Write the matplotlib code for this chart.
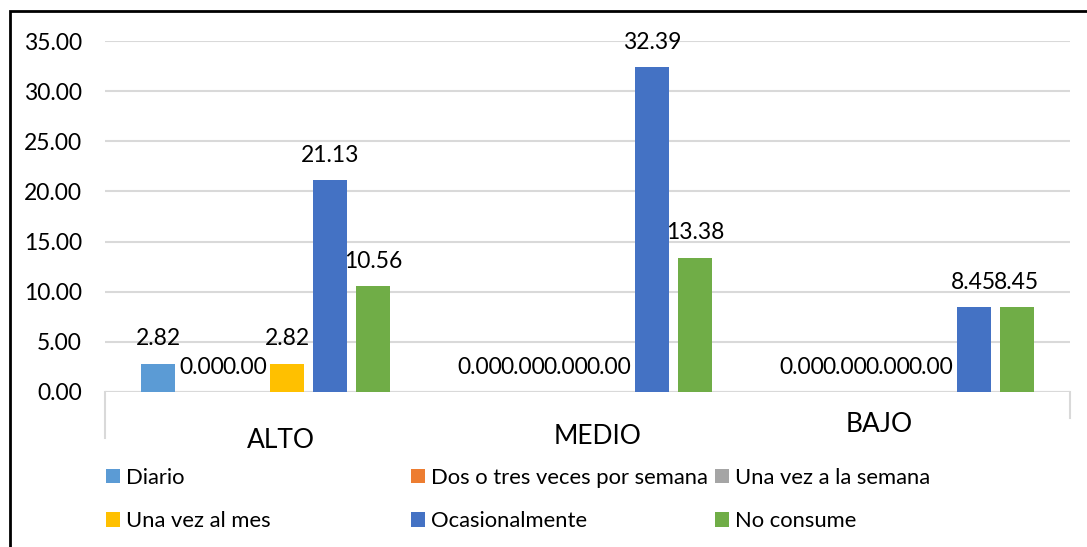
import matplotlib.pyplot as plt
import numpy as np
from matplotlib.patches import Rectangle
from matplotlib.transforms import blended_transform_factory

plt.rcParams['font.family'] = ['Lato', 'DejaVu Sans']

categorias = ['ALTO', 'MEDIO', 'BAJO']
series = ['Diario', 'Dos o tres veces por semana', 'Una vez a la semana',
          'Una vez al mes', 'Ocasionalmente', 'No consume']
valores = [
    [2.82, 0.00, 0.00],     # Diario
    [0.00, 0.00, 0.00],     # Dos o tres veces por semana
    [0.00, 0.00, 0.00],     # Una vez a la semana
    [2.82, 0.00, 0.00],     # Una vez al mes
    [21.13, 32.39, 8.45],   # Ocasionalmente
    [10.56, 13.38, 8.45],   # No consume
]
colores = ['#5B9BD5', '#ED7D31', '#A5A5A5', '#FFC000', '#4472C4', '#70AD47']
yticks = np.arange(0, 35.01, 5)

fig = plt.figure(figsize=(10.87, 5.47), dpi=100)
ax = fig.add_axes([105 / 1087, 1 - 392 / 547, 965 / 1087, 351 / 547])

x = np.arange(len(categorias))
ancho = 0.1057
paso = 0.1337
barras = []
for k, (nombre, vals, c) in enumerate(zip(series, valores, colores)):
    pos = x + (k - 2.5) * paso
    b = ax.bar(pos, vals, ancho, color=c, label=nombre, zorder=3)
    barras.append(b)
    for xi, v in zip(pos, vals):
        ax.annotate(f'{v:.2f}', (xi, v), xytext=(0, 18), textcoords='offset points',
                    ha='center', va='center', fontsize=16.5, color='#000000')

ax.set_xlim(-0.5, 2.5)
ax.set_ylim(0, 35)
ax.set_yticks(yticks)
ax.set_yticklabels([f'{t:.2f}' for t in yticks], fontsize=16.5)
ax.tick_params(axis='y', length=0, pad=16.5)
ax.set_xticks([])
ax.grid(axis='y', color='#D9D9D9', linewidth=1.5, zorder=0)
ax.set_axisbelow(True)
for s in ax.spines.values():
    s.set_visible(False)
ax.axhline(0, color='#D9D9D9', linewidth=1.5, zorder=2)

# marcas de los extremos del eje de categorias
trans = blended_transform_factory(ax.transData, ax.transAxes)
ax.plot([-0.5, -0.5], [0, -46 / 351], color='#D9D9D9', lw=1.5, transform=trans, clip_on=False)
ax.plot([2.5, 2.5], [0, -26 / 351], color='#D9D9D9', lw=1.5, transform=trans, clip_on=False)

# etiquetas de categoria
desplaz = [(0.047, -48), (0.031, -45), (-0.093, -32)]
for xi, nombre, (dx, dy) in zip(x, categorias, desplaz):
    ax.text(xi + dx, dy / 351, nombre, transform=trans, ha='center', va='center',
            fontsize=19, color='#000000')

# leyenda en tres columnas de igual ancho
columnas = [(0, 3), (1, 4), (2, 5)]
xs = [106, 411, 715]
for (a, b), xl in zip(columnas, xs):
    leg = fig.legend([barras[a], barras[b]], [series[a], series[b]],
                     loc='upper left', bbox_to_anchor=(xl / 1087, 1 - 468 / 547),
                     frameon=False, fontsize=15.8, handlelength=0.63, handleheight=0.63,
                     handletextpad=0.3, labelspacing=1.05, borderpad=0, borderaxespad=0)

# borde del area del grafico
fig.add_artist(Rectangle((10 / 1087, -0.1), 1.2, 1.1 - 11 / 547, transform=fig.transFigure,
                         fill=False, edgecolor='#000000', linewidth=2))

fig.savefig('out.png', dpi=100)
